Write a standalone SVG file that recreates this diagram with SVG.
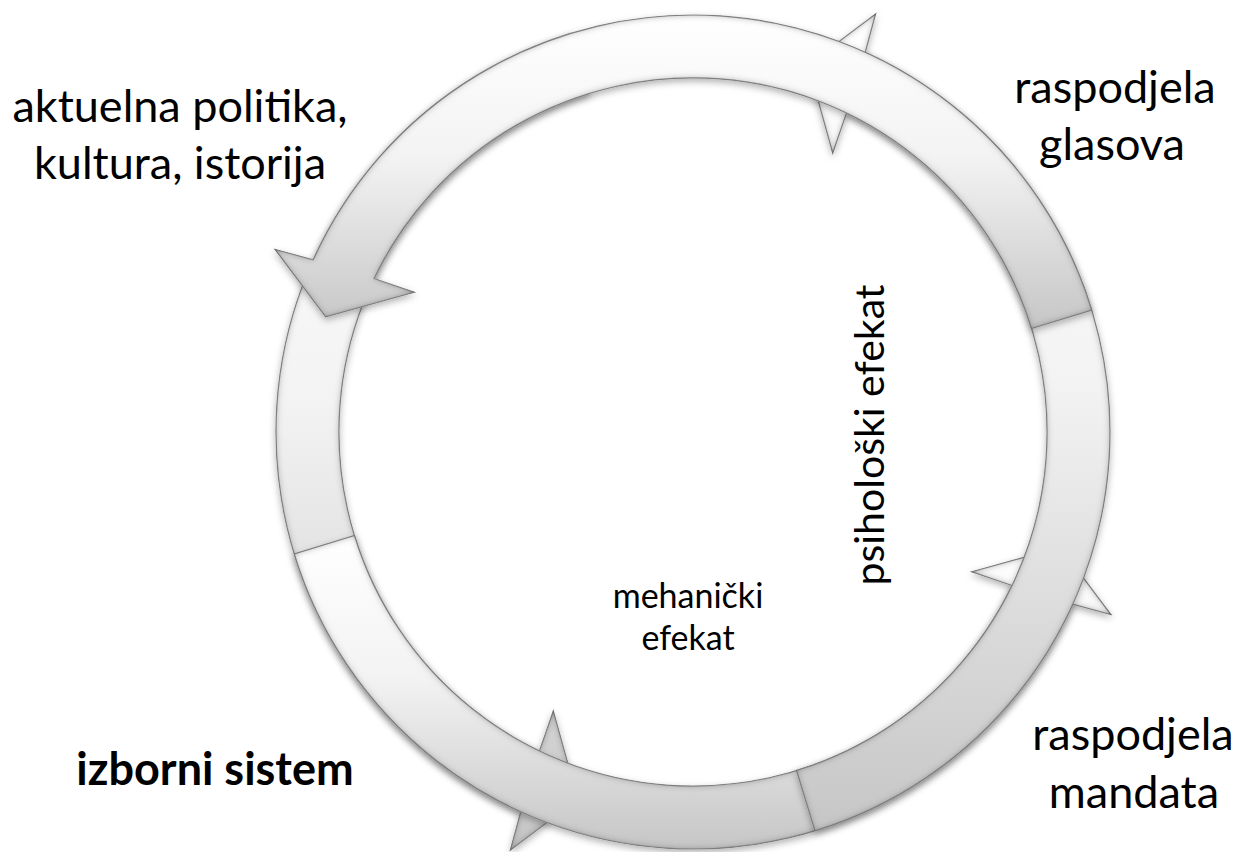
<svg xmlns="http://www.w3.org/2000/svg" width="1239" height="852" viewBox="0 0 1239 852">
  <style>
    .lbl { font-family: Lato, "Liberation Sans", sans-serif; fill: #000; text-anchor: middle; }
    .big { font-size: 45px; }
    .mid { font-size: 41px; }
    .sml { font-size: 34px; }
    .bold { font-weight: bold; }
    .arrow { fill: url(#g); stroke: #8e8e8e; stroke-width: 1.2; stroke-linejoin: miter; filter: url(#bev); }
  </style>
  <defs>
    <linearGradient id="g" x1="0" y1="0" x2="0" y2="1">
      <stop offset="0" stop-color="#ffffff"/>
      <stop offset="0.45" stop-color="#f3f3f3"/>
      <stop offset="1" stop-color="#c6c6c6"/>
    </linearGradient>
    <filter id="bev" x="-10%" y="-10%" width="120%" height="120%">
      <feGaussianBlur in="SourceAlpha" stdDeviation="3.5" result="blur"/>
      <feOffset in="blur" dx="0" dy="3" result="off"/>
      <feFlood flood-color="#000" flood-opacity="0.3"/>
      <feComposite in2="off" operator="in" result="shadow"/>
      <feGaussianBlur in="SourceAlpha" stdDeviation="3.5" result="b2"/>
      <feComposite in="SourceAlpha" in2="b2" operator="arithmetic" k2="1" k3="-1" result="edge"/>
      <feFlood flood-color="#5a5a5a" flood-opacity="0.8"/>
      <feComposite in2="edge" operator="in" result="edgec"/>
      <feMerge>
        <feMergeNode in="shadow"/>
        <feMergeNode in="SourceGraphic"/>
        <feMergeNode in="edgec"/>
      </feMerge>
    </filter>
  </defs>
  <rect width="1239" height="852" fill="#ffffff"/>

  <g id="connectors">
    <path id="arrow-left" class="arrow" d="M 571.08 33.22 A 417 417 0 0 0 520.74 811.75 L 510.44 849.86 L 577.87 799.38 L 553.30 710.97 L 539.48 751.02 A 354 354 0 0 1 589.50 93.47 Z"/>
    <path id="arrow-bottom" class="arrow" d="M 294.22 553.92 A 417 417 0 0 0 1072.75 604.26 L 1110.86 614.56 L 1060.38 547.13 L 971.97 571.70 L 1012.02 585.52 A 354 354 0 0 1 354.47 535.50 Z"/>
    <path id="arrow-right" class="arrow" d="M 814.92 830.78 A 417 417 0 0 0 865.26 52.25 L 875.56 14.14 L 808.13 64.62 L 832.70 153.03 L 846.52 112.98 A 354 354 0 0 1 796.50 770.53 Z"/>
    <path id="arrow-top" class="arrow" d="M 1091.78 310.08 A 417 417 0 0 0 313.25 259.74 L 275.14 249.44 L 325.62 316.87 L 414.03 292.30 L 373.98 278.48 A 354 354 0 0 1 1031.53 328.50 Z"/>
  </g>

  <g id="node-politika">
    <text class="lbl big" x="180" y="122">aktuelna politika,</text>
    <text class="lbl big" x="180" y="179">kultura, istorija</text>
  </g>
  <g id="node-glasova">
    <text class="lbl big" x="1115" y="103">raspodjela</text>
    <text class="lbl big" x="1112" y="160">glasova</text>
  </g>
  <g id="node-mandata">
    <text class="lbl big" x="1133" y="750">raspodjela</text>
    <text class="lbl big" x="1134" y="808">mandata</text>
  </g>
  <g id="node-sistem">
    <text class="lbl big bold" x="215" y="785">izborni  sistem</text>
  </g>
  <g id="node-psiholoski">
    <text class="lbl mid" transform="translate(884 435) rotate(-90)" x="0" y="0">psihološki efekat</text>
  </g>
  <g id="node-mehanicki">
    <text class="lbl sml" x="688" y="608">mehanički</text>
    <text class="lbl sml" x="688" y="650">efekat</text>
  </g>
</svg>
